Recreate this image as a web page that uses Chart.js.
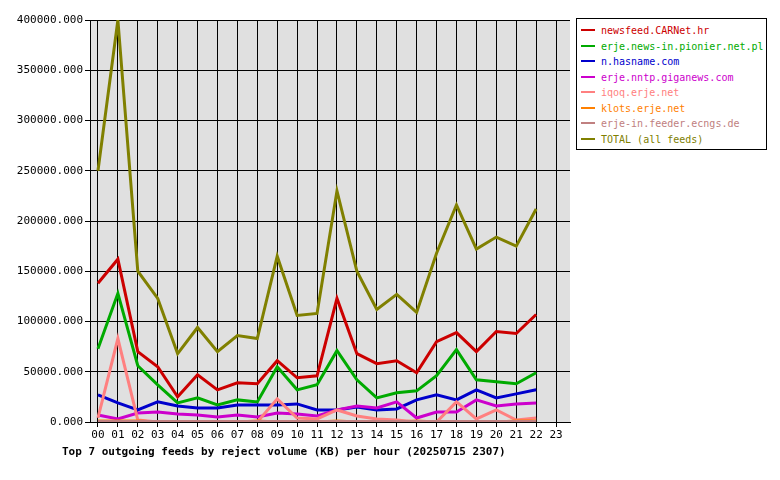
<!DOCTYPE html>
<html><head><meta charset="utf-8">
<script src="https://cdn.jsdelivr.net/npm/chart.js@4/dist/chart.umd.min.js"></script>
<style>
body{margin:0;background:#fff;font-family:"DejaVu Sans Mono",monospace}
#wrap{position:relative;width:780px;height:480px}
#legend{position:absolute;left:576px;top:18px;width:191px;height:132px;box-sizing:border-box;border:1px solid #000;background:#fff;padding:4px 0 0 4px;font-size:10px;line-height:15.5px}
#legend div{white-space:nowrap}
#legend span.sw{display:inline-block;width:14px;height:2px;vertical-align:middle;margin-right:6px;position:relative;top:-1px}
</style></head>
<body><div id="wrap"><canvas id="c" width="780" height="480"></canvas><div id="legend"></div></div>
<script>
const hours = ['00','01','02','03','04','05','06','07','08','09','10','11','12','13','14','15','16','17','18','19','20','21','22','23'];
const chartTitle = 'Top 7 outgoing feeds by reject volume (KB) per hour (20250715 2307)';
const feedNames = ['newsfeed.CARNet.hr','erje.news-in.pionier.net.pl','n.hasname.com','erje.nntp.giganews.com','iqoq.erje.net','klots.erje.net','erje-in.feeder.ecngs.de','TOTAL (all feeds)'];
const feedColors = ['#cc0000','#00aa00','#0000cc','#cc00cc','#ff8080','#ff8000','#c08080','#808000'];
const carnet = [138000,162000,70000,55000,25000,47000,32000,39000,38000,61000,44000,46000,123000,68000,58000,61000,49000,80000,89000,70000,90000,88000,107000];
const pionier = [73000,128000,56000,37000,19000,24000,17000,22000,20000,55000,32000,37000,71000,42000,24000,29000,31000,46000,72000,42000,40000,38000,49000];
const hasname = [27000,19000,12000,20000,16000,14000,14000,17000,17000,17000,18000,12000,12000,15000,12000,13000,22000,27000,22000,32000,24000,28000,32000];
const giganews = [7000,3000,9000,10000,8000,7000,5000,7000,5000,9000,8000,6000,12000,16000,14000,20000,4000,10000,10000,22000,16000,18000,19000];
const iqoq = [4000,83000,2000,0,0,0,0,0,0,23000,4000,3000,12000,6000,3000,2000,0,0,20000,3000,12000,2000,4000];
const klots = [1000,1000,1000,0,0,0,0,0,1000,0,0,0,1000,0,0,0,1000,0,0,0,0,1000,1000];
const ecngs = [500,500,500,500,500,500,500,500,500,500,500,500,500,500,500,500,500,500,500,500,500,500,500];
const total = [250000,400000,150000,123000,68000,94000,70000,86000,83000,165000,106000,108000,230000,150000,112000,127000,109000,168000,216000,172000,184000,175000,212000];
const series = [carnet,pionier,hasname,giganews,iqoq,klots,ecngs,total];

const leg = document.getElementById('legend');
feedNames.forEach((n,i)=>{
  const d=document.createElement('div');
  d.innerHTML='<span class="sw" style="background:'+feedColors[i]+'"></span>';
  d.appendChild(document.createTextNode(n));
  d.style.color=feedColors[i];
  leg.appendChild(d);
});

const plotBg = {id:'plotBg',
  beforeDraw(ch){const a=ch.chartArea,c=ch.ctx;c.save();c.fillStyle='#e0e0e0';c.fillRect(a.left,a.top,a.right-a.left,a.bottom-a.top);c.restore();},
  afterDraw(ch){const c=ch.ctx;c.save();c.fillStyle='#000';c.font='bold 11px "DejaVu Sans Mono"';c.textBaseline='middle';c.fillText(chartTitle,62,452);c.restore();}};
const font = {family:'DejaVu Sans Mono',size:11};
new Chart(document.getElementById('c'),{
  type:'line',
  data:{datasets:series.map((s,i)=>({label:feedNames[i],data:s.map((v,j)=>({x:j,y:v})),borderColor:feedColors[i],borderWidth:3,pointRadius:0,tension:0,order:series.length-i}))},
  options:{responsive:false,animation:false,
    layout:{padding:{left:0,right:210,top:20,bottom:38}},
    plugins:{legend:{display:false},tooltip:{enabled:false}},
    scales:{
      x:{type:'linear',min:-0.4,max:23.7,afterBuildTicks:ax=>{ax.ticks=hours.map((h,i)=>({value:i}));},
        afterFit:ax=>{ax.height=20;},
        ticks:{color:'#000',font,callback:v=>hours[v],maxRotation:0,autoSkip:false,padding:2},
        grid:{color:'#000',lineWidth:1,tickLength:5},border:{color:'#000'}},
      y:{min:0,max:400000,afterFit:ax=>{ax.width=90;},
        ticks:{stepSize:50000,color:'#000',font,callback:v=>v.toFixed(3),padding:2},
        grid:{color:'#000',lineWidth:1,tickLength:5},border:{color:'#000'}}
    }},
  plugins:[plotBg]
});
</script></body></html>
